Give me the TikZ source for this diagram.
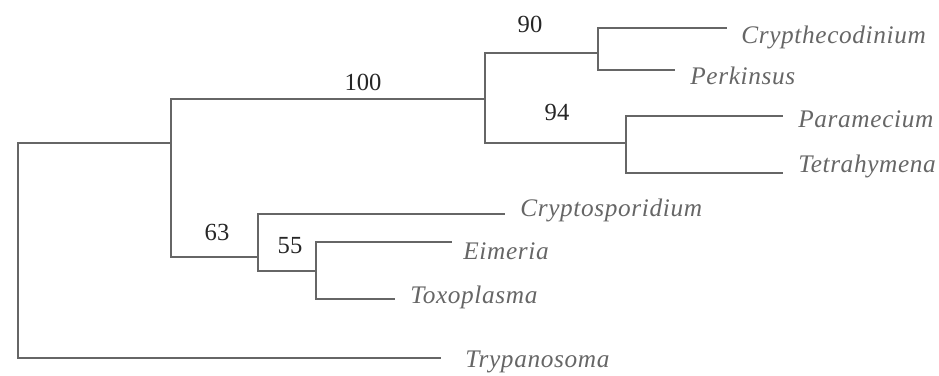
\documentclass[tikz,border=0pt]{standalone}
\usepackage{fontspec}
\setmainfont{Liberation Serif}
\newfontfamily\taxonfont[LetterSpace=2.5]{Liberation Serif}
\begin{document}
\begin{tikzpicture}[
    x=0.02cm, y=-0.02cm,
    branch/.style={draw=black!60, line width=1.1pt},
    taxon/.style={anchor=base west, inner sep=0pt, text=black!60,
                  font=\taxonfont\fontsize{14.4}{17}\selectfont\itshape},
    support/.style={inner sep=0pt, text=black!85,
                    font=\fontsize{14}{17}\selectfont}
]
    \useasboundingbox (0,0) rectangle (939,375);

    % internal nodes (x = node height, y = where the parent branch joins)
    \coordinate (root) at (18,250);
    \coordinate (nA) at (171,143);
    \coordinate (nB) at (485,99);
    \coordinate (nC) at (598,53);
    \coordinate (nD) at (626,143);
    \coordinate (nE) at (258,257);
    \coordinate (nF) at (316,271);

    % branch tips
    \coordinate (cryEnd) at (727,28);
    \coordinate (perEnd) at (675,70);
    \coordinate (parEnd) at (783,116);
    \coordinate (tetEnd) at (783,173);
    \coordinate (cptEnd) at (505,214);
    \coordinate (eimEnd) at (452,242);
    \coordinate (toxEnd) at (395,299);
    \coordinate (tryEnd) at (441,358);

    \node[taxon] (cry) at (741,44) {Crypthecodinium};
    \node[taxon] (per) at (690,85) {Perkinsus};
    \node[taxon] (par) at (798,128) {Paramecium};
    \node[taxon] (tet) at (798,172) {Tetrahymena};
    \node[taxon] (cpt) at (520,216) {Cryptosporidium};
    \node[taxon] (eim) at (463,259) {Eimeria};
    \node[taxon] (tox) at (410,303) {Toxoplasma};
    \node[taxon] (try) at (465,367) {Trypanosoma};

    \draw[branch] (root) |- (nA);
    \draw[branch] (root) |- (tryEnd);
    \draw[branch] (nA) |- (nB);
    \draw[branch] (nA) |- (nE);
    \draw[branch] (nB) |- (nC);
    \draw[branch] (nB) |- (nD);
    \draw[branch] (nC) |- (cryEnd);
    \draw[branch] (nC) |- (perEnd);
    \draw[branch] (nD) |- (parEnd);
    \draw[branch] (nD) |- (tetEnd);
    \draw[branch] (nE) |- (cptEnd);
    \draw[branch] (nE) |- (nF);
    \draw[branch] (nF) |- (eimEnd);
    \draw[branch] (nF) |- (toxEnd);

    % bootstrap values
    \node[support] (bs90) at (530,24) {90};
    \node[support] (bs94) at (557,112) {94};
    \node[support] (bs100) at (363,82) {100};
    \node[support] (bs63) at (217,232) {63};
    \node[support] (bs55) at (290,246) {55};
\end{tikzpicture}
\end{document}
